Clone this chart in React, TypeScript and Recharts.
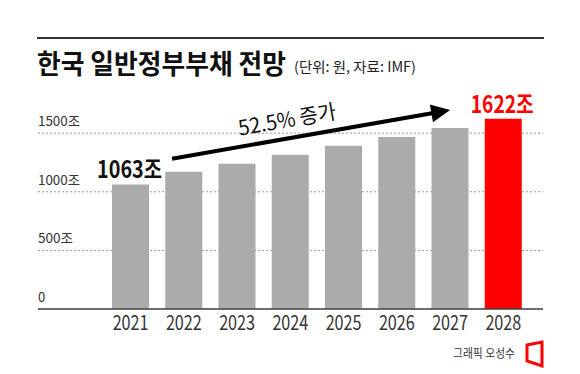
import React from "react"
import { BarChart, Bar, XAxis, YAxis, CartesianGrid, Cell, LabelList, ReferenceLine } from "recharts"

// 한국 일반정부부채 전망 (단위: 조 원, 자료: IMF)
const years = ["2021", "2022", "2023", "2024", "2025", "2026", "2027", "2028"]
const debt = [1063, 1170, 1240, 1316, 1392, 1468, 1545, 1622]
const yTicks = [0, 500, 1000, 1500]
const yTickLabels = ["0", "500조", "1000조", "1500조"]
const highlightYear = "2028"
const growthText = "52.5% 증가"
const arrowFrom = { year: "2022", value: 1300 }
const arrowTo = { year: "2027", value: 1697 }

const data = years.map((year, i) => ({ year, debt: debt[i] }))

const FONT = "'Noto Sans CJK KR', 'Noto Sans', sans-serif"
const W = 580
const H = 374
const LEFT = 38

const XTick = ({ x, y, payload }: any) => (
  <text x={x} y={y + 21} textAnchor="middle" fontFamily={FONT} fontSize={20} fill="#333"
    textLength={36} lengthAdjust="spacingAndGlyphs">
    {payload.value}
  </text>
)

const YTick = ({ y, payload }: any) => {
  const idx = yTicks.indexOf(payload.value)
  if (idx < 0) return null
  const label = yTickLabels[idx]
  const len = label.length > 4 ? 42 : label.length > 1 ? 35 : undefined
  return (
    <text x={LEFT} y={y - 7} textAnchor="start" fontFamily={FONT} fontSize={13} fill="#333"
      textLength={len} lengthAdjust="spacingAndGlyphs">
      {label}
    </text>
  )
}

const Callout = ({ x, y, width, value, index }: any) => {
  if (index !== 0 && index !== years.length - 1) return null
  const red = years[index] === highlightYear
  return (
    <text x={x + width / 2 - 1} y={y - 6} textAnchor="middle" fontFamily={FONT} fontWeight={700}
      fontSize={24} fill={red ? "#ff0000" : "#111"} textLength={red ? 63 : 65} lengthAdjust="spacingAndGlyphs">
      {value}조
    </text>
  )
}

const GrowthArrow = (props: any) => {
  const { x1, y1, x2, y2 } = props
  const dx = x2 - x1
  const dy = y2 - y1
  const len = Math.sqrt(dx * dx + dy * dy)
  const ux = dx / len
  const uy = dy / len
  const sx = x1 - ux * 12
  const sy = y1 - uy * 12
  const bx = x2 - ux * 19
  const by = y2 - uy * 19
  const nx = -uy
  const ny = ux
  const angle = (Math.atan2(dy, dx) * 180) / Math.PI
  const mx = (sx + x2) / 2
  const my = (sy + y2) / 2
  return (
    <g>
      <line x1={sx} y1={sy} x2={bx + ux * 2} y2={by + uy * 2} stroke="#000" strokeWidth={4} />
      <polygon points={`${x2},${y2} ${bx + nx * 9},${by + ny * 9} ${bx - nx * 9},${by - ny * 9}`} fill="#000" />
      <text transform={`translate(${mx},${my}) rotate(${angle})`} x={-21} y={-11} textAnchor="middle"
        fontFamily={FONT} fontSize={21} fill="#111" textLength={99} lengthAdjust="spacingAndGlyphs">
        {growthText}
      </text>
    </g>
  )
}

export default function App() {
  return (
    <div style={{ position: "absolute", left: 0, top: 0, width: W, height: H, background: "#fff" }}>
      <BarChart width={W} height={H} data={data} margin={{ top: 98, right: 37, bottom: 35, left: 0 }}>
        <CartesianGrid vertical={false} stroke="#999" strokeDasharray="2 2" syncWithTicks />
        <YAxis type="number" domain={[0, 1800]} ticks={yTicks} width={LEFT} axisLine={false}
          tickLine={false} tickSize={0} tickMargin={0} tick={<YTick />} />
        <XAxis dataKey="year" height={30} padding={{ left: 66, right: 13 }} tickLine={false}
          tickSize={0} tickMargin={0} axisLine={{ stroke: "#444", strokeWidth: 1.5 }} tick={<XTick />} />
        <Bar dataKey="debt" barSize={37} isAnimationActive={false}>
          {data.map((d) => (
            <Cell key={d.year} fill={d.year === highlightYear ? "#ff0000" : "#ababab"} />
          ))}
          <LabelList dataKey="debt" content={<Callout />} />
        </Bar>
        <ReferenceLine
          segment={[{ x: arrowFrom.year, y: arrowFrom.value }, { x: arrowTo.year, y: arrowTo.value }]}
          ifOverflow="visible"
          shape={<GrowthArrow />}
        />
      </BarChart>
      <svg width={W} height={H} style={{ position: "absolute", left: 0, top: 0, pointerEvents: "none" }}>
        <line x1={37} y1={38} x2={544} y2={38} stroke="#333" strokeWidth={2} />
        <text x={37} y={74} fontFamily={FONT} fontWeight={700} fontSize={27} fill="#111"
          textLength={249} lengthAdjust="spacingAndGlyphs">
          한국 일반정부부채 전망
        </text>
        <text x={294} y={72} fontFamily={FONT} fontSize={14} fill="#222"
          textLength={122} lengthAdjust="spacingAndGlyphs">
          (단위: 원, 자료: IMF)
        </text>
        <text x={453} y={358} fontFamily={FONT} fontSize={12} fill="#333"
          textLength={62} lengthAdjust="spacingAndGlyphs">
          그래픽 오성수
        </text>
        <polygon points="527,345 542,342 542,366 527,361" fill="none" stroke="#ff0000" strokeWidth={3} />
      </svg>
    </div>
  )
}
